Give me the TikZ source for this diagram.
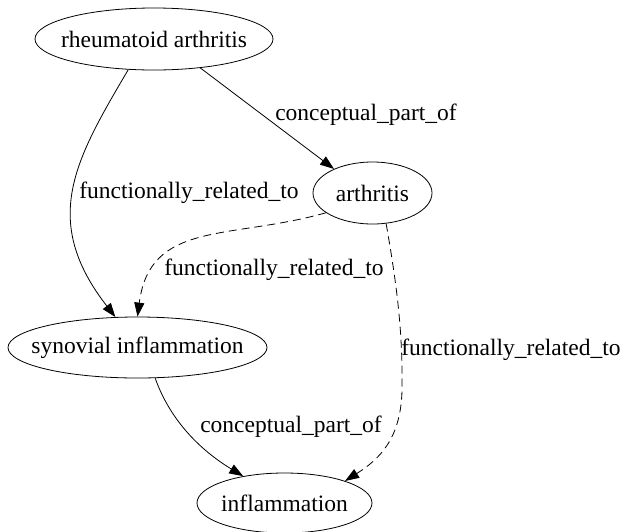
\documentclass[tikz,border=0pt]{standalone}
\usepackage{fontspec}
\setmainfont{Liberation Serif}
\usetikzlibrary{shapes.geometric,arrows.meta}
\begin{document}
\begin{tikzpicture}[x=1pt,y=-1pt,
  every node/.style={font=\fontsize{23.5}{26}\selectfont},
  ell/.style={draw,ellipse,line width=0.8pt,inner sep=0pt},
  conn/.style={line width=0.8pt,-{Triangle[length=14pt,width=10pt]}},
  dconn/.style={conn,dash pattern=on 8pt off 5pt},
  lbl/.style={inner sep=1pt}]
\useasboundingbox (0,0) rectangle (626,531);
\node[ell,minimum width=238pt,minimum height=62pt] (ra) at (154,39) {};
\node (rat) at (ra) {rheumatoid arthritis};
\node[ell,minimum width=119pt,minimum height=62pt] (ar) at (372.5,193) {};
\node (art) at (ar) {arthritis};
\node[ell,minimum width=259pt,minimum height=61pt] (si) at (137.5,347.5) {};
\node (sit) at (si) {synovial inflammation};
\node[ell,minimum width=175pt,minimum height=60pt] (inf) at (284.5,503) {};
\node (inft) at (inf) {inflammation};
\draw[conn] (ra.-32) -- (ar.148);
\node[lbl] (l1) at (366,115) {conceptual\_part\_of};
\draw[conn] (ra.230) .. controls (75,160) and (40,220) .. (si.126);
\node[lbl] (l2) at (189,193) {functionally\_related\_to};
\draw[dconn] (ar.203) .. controls (230,240) and (150,220) .. (si.90);
\node[lbl] (l3) at (274,270) {functionally\_related\_to};
\draw[dconn] (ar.-66) .. controls (396,280) and (403,330) .. (402,390) .. controls (401,440) and (378,460) .. (inf.20);
\node[lbl] (l4) at (511,350) {functionally\_related\_to};
\draw[conn] (si.-60) .. controls (170,420) and (200,450) .. (inf.147);
\node[lbl] (l5) at (291,427) {conceptual\_part\_of};
\end{tikzpicture}
\end{document}
